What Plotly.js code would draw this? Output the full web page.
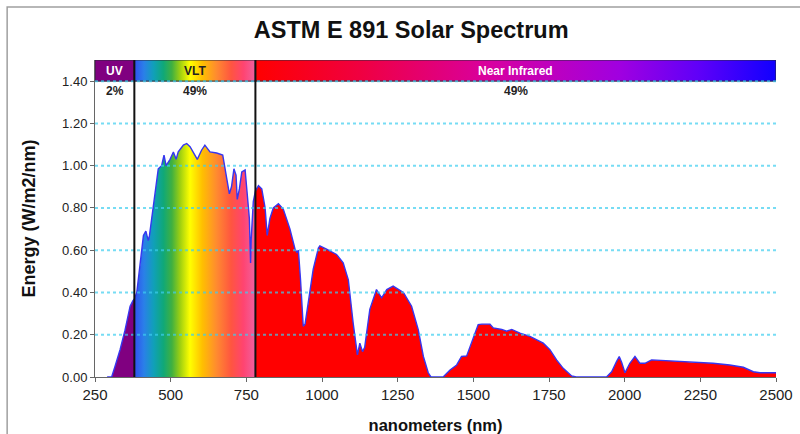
<!DOCTYPE html>
<html>
<head>
<meta charset="utf-8">
<script src="https://cdn.plot.ly/plotly-3.0.1.min.js"></script>
<style>html,body{margin:0;padding:0;background:#fff;}#chart{width:800px;height:434px;}</style>
</head>
<body>
<div id="chart"></div>
<script>
// Wavelength (nm) and spectral irradiance (W/m2/nm)
const wavelengths = [290,305,316,333,349,366,375,380,388,399,410,418,426,430,437,448,459,470,478,485,498,509,518,525,542,553,564,580,588,602,613,630,652,672,679,684,694,701,709,716,720,727,735,746,751,760,764,766,773,780,790,801,812,819,828,839,856,872,894,911,917,922,929,938,944,955,971,988,993,1015,1048,1070,1087,1103,1117,1125,1134,1141,1158,1180,1197,1214,1235,1269,1296,1318,1335,1351,1360,1400,1423,1445,1461,1478,1494,1516,1528,1555,1566,1594,1610,1627,1654,1687,1731,1753,1775,1797,1825,1840,1940,1957,1973,1982,1990,2001,2017,2034,2050,2067,2089,2127,2182,2237,2292,2347,2392,2425,2447,2500];
const energy = [0,0,0.05,0.13,0.22,0.335,0.36,0.37,0.40,0.525,0.67,0.69,0.645,0.67,0.75,0.86,0.985,1.00,1.05,1.00,1.03,1.065,1.03,1.065,1.097,1.105,1.09,1.05,1.03,1.073,1.097,1.065,1.06,1.05,0.994,0.95,0.867,0.90,0.985,0.955,0.84,0.89,0.97,0.98,0.90,0.75,0.54,0.65,0.83,0.88,0.905,0.89,0.80,0.67,0.75,0.80,0.82,0.795,0.70,0.605,0.59,0.60,0.462,0.24,0.25,0.35,0.51,0.61,0.62,0.605,0.58,0.54,0.46,0.255,0.105,0.16,0.12,0.14,0.32,0.414,0.375,0.414,0.43,0.40,0.335,0.224,0.097,0.02,0,0,0.033,0.057,0.097,0.10,0.16,0.248,0.25,0.25,0.232,0.225,0.217,0.225,0.208,0.192,0.16,0.129,0.081,0.041,0.005,0,0,0.025,0.073,0.097,0.07,0.02,0.065,0.097,0.065,0.065,0.081,0.078,0.073,0.068,0.065,0.057,0.046,0.025,0.02,0.02];

// Bands
const bandNames = ['UV','VLT','Near Infrared'];
const bandEdges = [250, 380, 780, 2500];
const bandShares = ['2%','49%','49%'];

// Axis ticks
const xTicks = [250,500,750,1000,1250,1500,1750,2000,2250,2500];
const yTicks = [0,0.2,0.4,0.6,0.8,1.0,1.2,1.4];

const FONT = 'Liberation Sans, Arial, Helvetica, sans-serif';
const uvColor = '#800080';
const nirFill = '#ff0000';
const visScale = [[0,'#3050f0'],[0.08,'#2a80e8'],[0.16,'#10a0b8'],[0.24,'#10a878'],[0.31,'#40b040'],[0.38,'#a0d010'],[0.46,'#ffff00'],[0.56,'#ffc000'],[0.68,'#ff8a30'],[0.8,'#ff5540'],[0.9,'#ff4470'],[1,'#f060a0']];
const nirScale = [[0,'#ff0000'],[0.2,'#f00040'],[0.45,'#d800a0'],[0.7,'#a000e0'],[0.85,'#6000f8'],[1,'#1000ff']];
const bandTop = 1.5, bandBottom = 1.4;

function slice(lo, hi){
  const xs=[], ys=[];
  wavelengths.forEach((w,i)=>{ if(w>=lo && w<=hi){ xs.push(w); ys.push(energy[i]); } });
  return {xs, ys};
}
const uv = slice(bandEdges[0], bandEdges[1]);
const vis = slice(bandEdges[1], bandEdges[2]);
const nir = slice(bandEdges[2], bandEdges[3]);

const traces = [];
traces.push({type:'scatter', mode:'none', x:uv.xs, y:uv.ys, fill:'tozeroy', fillcolor:uvColor, hoverinfo:'skip', showlegend:false});
traces.push({type:'scatter', mode:'none', x:vis.xs, y:vis.ys, fill:'tozeroy',
  fillgradient:{type:'horizontal', start:bandEdges[1], stop:bandEdges[2], colorscale:visScale}, hoverinfo:'skip', showlegend:false});
traces.push({type:'scatter', mode:'none', x:nir.xs, y:nir.ys, fill:'tozeroy', fillcolor:nirFill, hoverinfo:'skip', showlegend:false});
traces.push({type:'scatter', mode:'lines', x:wavelengths, y:energy, line:{color:'#3636f0', width:1.4}, showlegend:false});

// Top band rectangles
bandNames.forEach((name,i)=>{
  const a = bandEdges[i], b = bandEdges[i+1];
  const t = {type:'scatter', mode:'lines', x:[a,b,b,a,a], y:[bandBottom,bandBottom,bandTop,bandTop,bandBottom],
    fill:'toself', line:{color:'#2a2a3a', width:1}, hoverinfo:'skip', showlegend:false};
  if(i===0) t.fillcolor = uvColor;
  else if(i===1) t.fillgradient = {type:'horizontal', start:a, stop:b, colorscale:visScale};
  else t.fillgradient = {type:'horizontal', start:a, stop:b, colorscale:nirScale};
  traces.push(t);
});

const annotations = [];
bandNames.forEach((name,i)=>{
  const c = (bandEdges[i]+bandEdges[i+1])/2;
  annotations.push({x:c, y:(bandTop+bandBottom)/2, xref:'x', yref:'y', text:'<b>'+name+'</b>', showarrow:false,
    font:{family:FONT, size:12, color: i===1 ? '#222' : '#ffffff'}});
  annotations.push({x:c, y:1.355, xref:'x', yref:'y', text:'<b>'+bandShares[i]+'</b>', showarrow:false,
    font:{family:FONT, size:12, color:'#222'}});
});

const shapes = [];
// outer frame
shapes.push({type:'rect', xref:'paper', yref:'paper', x0:-0.129, x1:1.05, y0:-0.2, y1:1.167, line:{color:'#a0a0a0', width:1.5}, layer:'below'});
// dotted grid lines drawn above the fill
yTicks.filter(v=>v>0).forEach(v=>{
  shapes.push({type:'line', xref:'paper', yref:'y', x0:0, x1:1, y0:v, y1:v, line:{color:'rgba(60,205,240,0.7)', width:2, dash:'dot'}, layer:'above'});
});
// boundary lines
[bandEdges[1], bandEdges[2]].forEach(w=>{
  shapes.push({type:'line', xref:'x', yref:'y', x0:w, x1:w, y0:0, y1:bandTop, line:{color:'#111', width:2}, layer:'above'});
});

const layout = {
  width:800, height:434,
  margin:{l:95, r:24, t:60, b:57},
  paper_bgcolor:'#ffffff', plot_bgcolor:'#ffffff',
  font:{family:FONT, color:'#222'},
  title:{text:'<b>ASTM E 891 Solar Spectrum</b>', x:0.514, xanchor:'center', xref:'container', y:0.931, yanchor:'middle', yref:'container',
    font:{family:FONT, size:23.5, color:'#111'}},
  xaxis:{range:[250,2500], tickvals:xTicks, ticktext:xTicks.map(String), showgrid:false, zeroline:false,
    showline:true, linecolor:'#666', linewidth:1, ticks:'outside', ticklen:4, tickcolor:'#666',
    tickfont:{family:FONT, size:15, color:'#222'},
    title:{text:'<b>nanometers (nm)</b>', font:{family:FONT, size:16.5, color:'#111'}, standoff:17}},
  yaxis:{range:[0,1.5], tickvals:yTicks, ticktext:yTicks.map(v=>v.toFixed(2)), showgrid:false, zeroline:false,
    showline:true, linecolor:'#666', linewidth:1, ticks:'outside', ticklen:4, tickcolor:'#666',
    tickfont:{family:FONT, size:13, color:'#222'},
    title:{text:'<b>Energy (W/m2/nm)</b>', font:{family:FONT, size:18, color:'#111'}, standoff:21}},
  shapes:shapes,
  annotations:annotations,
  showlegend:false
};

Plotly.newPlot('chart', traces, layout, {displayModeBar:false, staticPlot:true});
</script>
</body>
</html>
